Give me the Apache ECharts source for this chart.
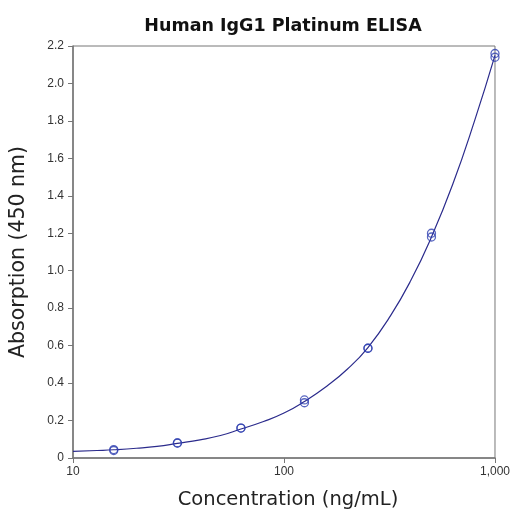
<!DOCTYPE html>
<html><head><meta charset="utf-8">
<script src="https://cdn.jsdelivr.net/npm/echarts@6/dist/echarts.min.js"></script>
<style>html,body{margin:0;padding:0;background:#fff}#c{width:513px;height:515px}</style>
</head><body><div id="c"></div>
<script>
const concentrations = [15.6, 31.25, 62.5, 125, 250, 500, 1000];
const absorbRep1 = [0.040, 0.080, 0.160, 0.310, 0.586, 1.200, 2.160];
const absorbRep2 = [0.045, 0.080, 0.160, 0.295, 0.586, 1.180, 2.140];
const curveConc = [10, 13, 15.6, 20, 25, 31.25, 40, 50, 62.5, 80, 100, 125, 160, 200, 250, 320, 400, 500, 630, 800, 1000];
const curveAbs = [0.035, 0.040, 0.044, 0.052, 0.062, 0.078, 0.097, 0.120, 0.155, 0.195, 0.240, 0.302, 0.385, 0.475, 0.590, 0.760, 0.950, 1.180, 1.460, 1.800, 2.150];
const xTickLabels = {10: '10', 100: '100', 1000: '1,000'};
const yTickLabels = ['0','0.2','0.4','0.6','0.8','1.0','1.2','1.4','1.6','1.8','2.0','2.2'];

const font = '"Liberation Sans", Arial, Helvetica, sans-serif';
const wideFont = '"DejaVu Sans", sans-serif';
const chart = echarts.init(document.getElementById('c'));
const pts = (xs, ys) => xs.map((x, i) => [x, ys[i]]);
chart.setOption({
  animation: false,
  title: {text: 'Human IgG1 Platinum ELISA', left: 278, top: 12, textAlign: 'center',
    textStyle: {fontFamily: wideFont, fontSize: 17.5, fontWeight: 'bold', color: '#111'}},
  grid: {left: 72, right: 17, top: 46, bottom: 56, show: true, borderColor: '#777', borderWidth: 1, backgroundColor: 'transparent'},
  xAxis: {type: 'log', logBase: 10, min: 10, max: 1000,
    name: 'Concentration (ng/mL)', nameLocation: 'middle', nameGap: 32,
    nameTextStyle: {fontFamily: wideFont, fontSize: 19.5, color: '#222', padding: [0, 0, 0, 8]},
    axisLine: {lineStyle: {color: '#777', width: 1.5}},
    axisTick: {show: true, length: 5, lineStyle: {color: '#777'}},
    minorTick: {show: false}, splitLine: {show: false},
    axisLabel: {fontFamily: font, fontSize: 12, color: '#333', margin: 8,
      formatter: v => xTickLabels[Math.round(v)] || ''}},
  yAxis: {type: 'value', min: 0, max: 2.2, interval: 0.2,
    name: 'Absorption (450 nm)', nameLocation: 'middle', nameGap: 44,
    nameTextStyle: {fontFamily: wideFont, fontSize: 20.5, color: '#222'},
    axisLine: {show: true, lineStyle: {color: '#777', width: 1.5}},
    axisTick: {show: true, length: 5, lineStyle: {color: '#777'}},
    splitLine: {show: false},
    axisLabel: {fontFamily: font, fontSize: 12, color: '#333', margin: 9,
      formatter: v => yTickLabels[Math.round(v / 0.2)]}},
  series: [
    {type: 'line', data: pts(curveConc, curveAbs), smooth: true, showSymbol: false,
      lineStyle: {color: '#2b2b8c', width: 1.2}, z: 2},
    {type: 'scatter', data: pts(concentrations, absorbRep1), symbol: 'circle', symbolSize: 8,
      itemStyle: {color: 'rgba(0,0,0,0)', borderColor: '#3040b0', borderWidth: 1.3}, z: 3},
    {type: 'scatter', data: pts(concentrations, absorbRep2), symbol: 'circle', symbolSize: 8,
      itemStyle: {color: 'rgba(0,0,0,0)', borderColor: '#3040b0', borderWidth: 1.3}, z: 3}
  ]
});
</script></body></html>
